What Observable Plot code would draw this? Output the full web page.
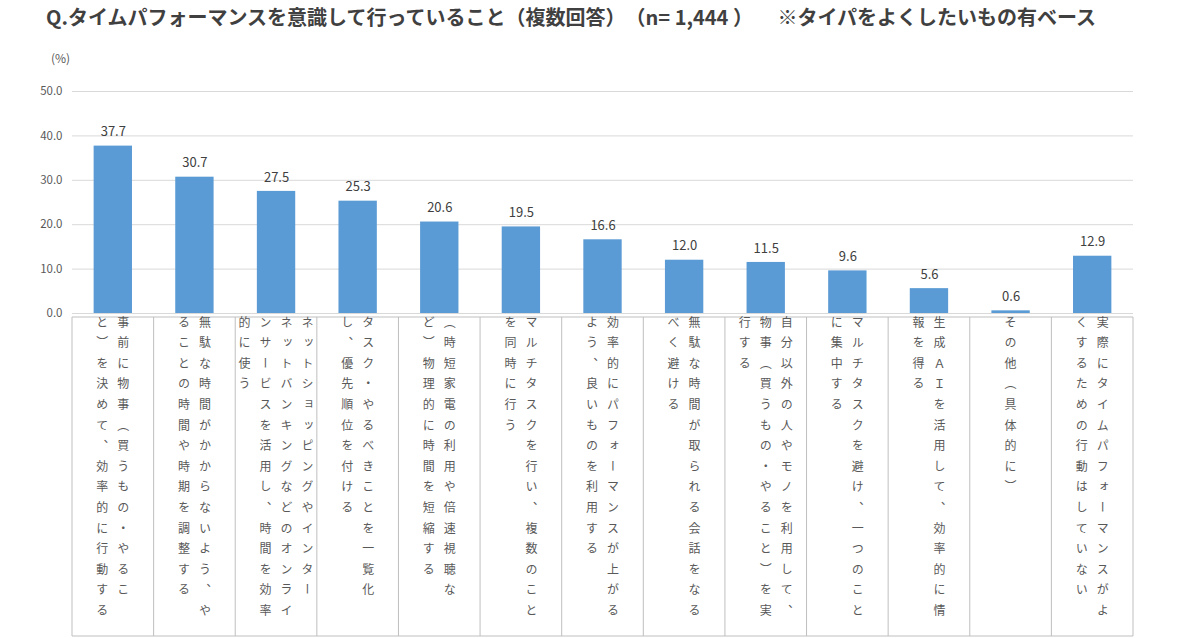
<!DOCTYPE html>
<html><head><meta charset="utf-8">
<script src="https://cdn.jsdelivr.net/npm/d3@7"></script>
<script src="https://cdn.jsdelivr.net/npm/@observablehq/plot@0.6"></script>
<style>
body{margin:0;background:#fff;font-family:"Noto Sans CJK JP","Noto Sans",sans-serif;}
#wrap{position:relative;width:1200px;height:638px;overflow:hidden;}
#wrap svg{position:absolute;left:0;top:0;}
#title{position:absolute;left:46px;top:7px;font-size:20px;line-height:1;font-weight:bold;color:#404040;white-space:pre;text-spacing-trim:space-all;}
#unit{position:absolute;left:51px;top:52px;font-size:12px;line-height:1;color:#595959;}
</style></head><body>
<div id="wrap"></div>
<script>
(function(){
const titleText = "Q.タイムパフォーマンスを意識して行っていること（複数回答）（n= 1,444 ）　 ※タイパをよくしたいもの有ベース";
const unitText = "(%)";
const categories = [
  "事前に物事（買うもの・やるこ\nと）を決めて、効率的に行動する",
  "無駄な時間がかからないよう、や\nることの時間や時期を調整する",
  "ネットショッピングやインター\nネットバンキングなどのオンライ\nンサービスを活用し、時間を効率\n的に使う",
  "タスク・やるべきことを一覧化\nし、優先順位を付ける",
  "（時短家電の利用や倍速視聴な\nど）物理的に時間を短縮する",
  "マルチタスクを行い、複数のこと\nを同時に行う",
  "効率的にパフォーマンスが上がる\nよう、良いものを利用する",
  "無駄な時間が取られる会話をなる\nべく避ける",
  "自分以外の人やモノを利用して、\n物事（買うもの・やること）を実\n行する",
  "マルチタスクを避け、一つのこと\nに集中する",
  "生成ＡＩを活用して、効率的に情\n報を得る",
  "その他（具体的に）",
  "実際にタイムパフォーマンスがよ\nくするための行動はしていない"
];
const values = [37.7, 30.7, 27.5, 25.3, 20.6, 19.5, 16.6, 12.0, 11.5, 9.6, 5.6, 0.6, 12.9];
const yTicks = [0, 10, 20, 30, 40, 50];

const data = categories.map((c, i) => ({cat: c, value: values[i]}));
const font = '"Noto Sans CJK JP","Noto Sans",sans-serif';

const plot = Plot.plot({
  width: 1200, height: 638,
  marginLeft: 72, marginRight: 67, marginTop: 91, marginBottom: 325,
  style: {fontFamily: font, fontSize: "11.5px", color: "#595959", background: "transparent"},
  x: {domain: categories, paddingInner: 0.53, paddingOuter: 0.265, round: false, axis: null},
  y: {domain: [0, 50], ticks: yTicks, tickFormat: d => d.toFixed(1), tickSize: 0, tickPadding: 10, label: null},
  marks: [
    Plot.ruleY(yTicks, {stroke: "#d9d9d9", strokeWidth: 1}),
    Plot.barY(data, {x: "cat", y: "value", fill: "#5B9BD5"}),
    Plot.text(data, {x: "cat", y: "value", text: d => d.value.toFixed(1), dy: -14, fontSize: 13, fill: "#404040"})
  ]
});

const wrap = document.getElementById("wrap");
wrap.appendChild(plot);
const t = document.createElement("div"); t.id = "title"; t.textContent = titleText; wrap.appendChild(t);
const u = document.createElement("div"); u.id = "unit"; u.textContent = unitText; wrap.appendChild(u);

const xs = plot.scale("x");
const ys = plot.scale("y");
const step = xs.step, bw = xs.bandwidth;
const tableTop = ys.apply(0) + 4;
const tableBottom = 636;
const svg = d3.select(plot);
const g = svg.append("g");
const left = xs.apply(categories[0]) + bw / 2 - step / 2;
const right = xs.apply(categories[categories.length - 1]) + bw / 2 + step / 2;
g.append("line").attr("x1", left).attr("x2", right).attr("y1", tableTop).attr("y2", tableTop).attr("stroke", "#bfbfbf");
g.append("line").attr("x1", left).attr("x2", right).attr("y1", tableBottom).attr("y2", tableBottom).attr("stroke", "#bfbfbf");
const colPitch = 21, charPitch = 20.6, fs = 12;
categories.forEach((c, i) => {
  const cx = xs.apply(c) + bw / 2;
  g.append("line").attr("x1", cx - step / 2).attr("x2", cx - step / 2).attr("y1", tableTop).attr("y2", tableBottom).attr("stroke", "#bfbfbf");
  if (i === categories.length - 1)
    g.append("line").attr("x1", cx + step / 2).attr("x2", cx + step / 2).attr("y1", tableTop).attr("y2", tableBottom).attr("stroke", "#bfbfbf");
  const lines = c.split("\n");
  const n = lines.length;
  lines.forEach((line, j) => {
    const lx = cx + ((n - 1) / 2 - j) * colPitch;
    Array.from(line).forEach((ch, k) => {
      g.append("text")
        .attr("x", lx)
        .attr("y", tableTop + 5 + k * charPitch)
        .attr("style", "writing-mode:vertical-rl")
        .attr("font-size", fs)
        .attr("font-family", font)
        .attr("fill", "#595959")
        .text(ch);
    });
  });
});
})();
</script>
</body></html>
